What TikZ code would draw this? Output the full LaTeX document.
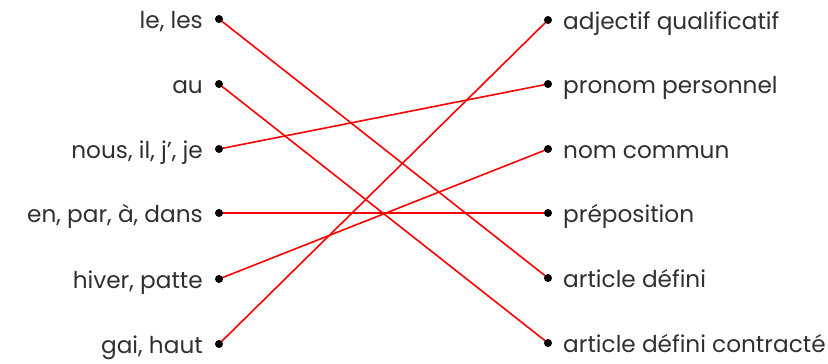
\documentclass[tikz,border=0pt]{standalone}
\usepackage{fontspec}
\setmainfont{Poppins}
\definecolor{txt}{HTML}{303030}
\begin{document}
\begin{tikzpicture}[x=1pt,y=-1pt,
  dotnode/.style={circle,fill=black,inner sep=0pt,minimum size=8pt},
  lefttxt/.style={anchor=base east,inner sep=0pt,text=txt,font=\fontsize{23.2}{27}\selectfont},
  righttxt/.style={anchor=base west,inner sep=0pt,text=txt,font=\fontsize{23.2}{27}\selectfont},
  link/.style={red,line width=1.6pt}]
\useasboundingbox (0,0) rectangle (828,364);
\coordinate (l1) at (219,19);
\coordinate (l2) at (219,84);
\coordinate (l3) at (219,149);
\coordinate (l4) at (219,213);
\coordinate (l5) at (219,279);
\coordinate (l6) at (219,344);
\coordinate (r1) at (548,20);
\coordinate (r2) at (548,84);
\coordinate (r3) at (548,149);
\coordinate (r4) at (548,213);
\coordinate (r5) at (548,278);
\coordinate (r6) at (548,343);
\draw[link] (l1) -- (r5);
\draw[link] (l2) -- (r6);
\draw[link] (l3) -- (r2);
\draw[link] (l4) -- (r4);
\draw[link] (l5) -- (r3);
\draw[link] (l6) -- (r1);
\foreach \p in {l1,l2,l3,l4,l5,l6,r1,r2,r3,r4,r5,r6} \node[dotnode] (d\p) at (\p) {};
\node[lefttxt] (t1) at (203,28) {le, les};
\node[lefttxt] (t2) at (203,93) {au};
\node[lefttxt] (t3) at (203,158) {nous, il, j’, je};
\node[lefttxt] (t4) at (203,222) {en, par, à, dans};
\node[lefttxt] (t5) at (203,288) {hiver, patte};
\node[lefttxt] (t6) at (203,353) {gai, haut};
\node[righttxt] (s1) at (563,29) {adjectif qualificatif};
\node[righttxt] (s2) at (563,93) {pronom personnel};
\node[righttxt] (s3) at (563,158) {nom commun};
\node[righttxt] (s4) at (563,222) {préposition};
\node[righttxt] (s5) at (563,287) {article défini};
\node[righttxt] (s6) at (563,352) {article défini contracté};
\end{tikzpicture}
\end{document}
